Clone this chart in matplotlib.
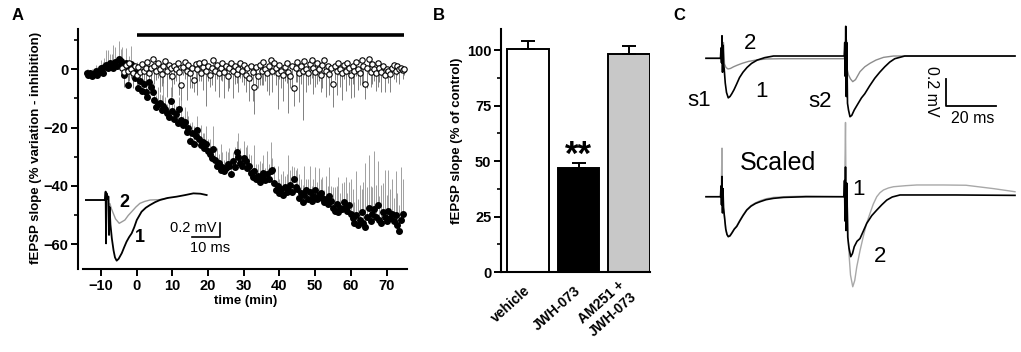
import numpy as np
import matplotlib
matplotlib.use('Agg')
import matplotlib.pyplot as plt
from matplotlib import font_manager as fm
from matplotlib.ticker import MultipleLocator


def _has_bold(fam):
    for f in fm.fontManager.ttflist:
        if f.name != fam:
            continue
        w = f.weight
        if isinstance(w, str):
            w = fm.weight_dict.get(w, 400)
        if w >= 700:
            return True
    return False


FAM = 'DejaVu Sans'
for cand in ['Liberation Sans', 'Arimo', 'Roboto', 'Open Sans', 'Lato', 'Noto Sans', 'Inter']:
    if _has_bold(cand):
        FAM = cand
        break
plt.rcParams['font.family'] = [FAM, 'DejaVu Sans']
plt.rcParams['font.weight'] = 'bold'

# ---------------- data: panel A time course ----------------
fill_t0, fill_dt = -14.0, 0.5
fill_y = [
    -1.5, -2.0, -1.2, -2.5, -1.8, -0.5, -2.2, -1.0, 0.2,
    -1.5, 0.8, 1.5, 0.5, 2.0, 1.2, 0.3, 2.5, 1.0, 3.5,
    2.8, 1.5, -2.0, 2.2, -5.5, 0.5, 1.8, -1.0, -3.0, -1.5,
    -6.5, -4.0, -7.5, -5.0, -8.0, -9.5, -4.5, -6.0, -7.8, -10.5,
    -13.0, -12.0, -11.5, -14.0, -12.5, -13.5, -15.0, -16.5, -11.0, -14.5,
    -17.0, -15.5, -18.5, -13.5, -17.5, -19.0, -18.0, -21.5, -20.0, -24.5,
    -22.0, -25.5, -23.0, -21.0, -24.0, -26.0, -25.0, -27.0, -25.5, -28.0,
    -29.0, -30.5, -27.5, -31.0, -33.0, -32.0, -34.5, -33.5, -35.0, -34.0,
    -32.5, -33.0, -36.0, -31.5, -33.5, -28.5, -30.0, -32.0, -33.0, -30.5,
    -31.5, -34.0, -33.0, -35.5, -37.0, -35.0, -37.5, -36.5, -38.5, -37.0,
    -35.5, -38.0, -36.0, -37.5, -35.0, -34.5, -39.0, -41.5, -40.0, -42.5,
    -41.0, -43.0, -40.5, -42.0, -41.5, -39.5, -42.0, -37.5, -40.5, -41.0,
    -44.0, -42.5, -45.5, -43.0, -41.5, -44.5, -42.0, -45.0, -43.5, -41.5,
    -44.5, -43.0, -42.5, -44.0, -45.5, -44.5, -46.0, -43.5, -45.0, -47.5,
    -48.5, -46.0, -49.0, -47.5, -48.0, -45.5, -47.0, -48.5, -46.5, -49.5,
    -51.0, -52.5, -50.0, -53.5, -51.5, -49.0, -52.5, -54.0, -50.5, -47.5,
    -52.0, -49.5, -48.0, -50.5, -46.5, -51.5, -52.5, -49.0, -50.5, -52.0,
    -48.5, -51.0, -49.5, -52.0, -50.0, -53.5, -55.5, -51.5, -49.5,
]
fill_err = [
    1.5, 2, 1, 2.5, 1.5, 2, 3, 2, 3,
    4, 3, 5, 6, 3, 4, 8, 5, 3, 6,
    4, 6, 3, 5, 7, 4, 6, 3, 5, 4,
    3, 4, 6, 2, 5, 3, 8, 4, 3, 5,
    4, 6, 3, 5, 8, 4, 3, 6, 5, 4,
    5, 3, 6, 4, 8, 3, 5, 7, 4, 6,
    4, 6, 3, 5, 4, 7, 3, 5, 6, 4,
    5, 3, 8, 4, 6, 3, 9, 5, 4, 6,
    4, 6, 5, 3, 7, 4, 8, 5, 3, 6,
    5, 8, 4, 6, 3, 9, 5, 4, 7, 5,
    6, 4, 8, 5, 10, 4, 6, 3, 7, 5,
    5, 8, 4, 6, 12, 5, 9, 4, 6, 7,
    8, 5, 6, 10, 4, 7, 9, 5, 6, 8,
    6, 9, 5, 7, 4, 8, 6, 10, 5, 7,
    8, 6, 12, 5, 9, 7, 10, 6, 8, 12,
    10, 7, 15, 9, 12, 8, 14, 22, 10, 18,
    12, 9, 20, 11, 15, 8, 13, 10, 16, 9,
    14, 10, 12, 8, 15, 11, 9, 18, 12,
]
open_t0, open_dt = -4.0, 0.5
open_y = [
    0.5, -1.0, 1.5, -0.5, 2.0, 0.0, -1.5, 1.0, -2.0,
    0.8, -1.0, 1.8, -0.5, 0.5, 2.5, -1.5, 0.3, 3.5, 1.0,
    -0.8, 2.0, 0.0, -1.8, 1.2, 2.8, -0.5, 1.5, 0.2, -2.5,
    1.0, 0.0, 2.2, -1.0, -5.5, 0.8, 2.5, -0.5, 1.5, -1.5,
    0.5, -3.8, 1.8, 0.0, 2.0, -1.2, 0.8, 2.5, -0.8, 1.0,
    -2.0, 0.5, 3.0, -0.5, 1.5, -1.5, 0.2, 2.0, -1.0, 1.2,
    -2.5, 0.5, 2.2, -0.8, 1.0, -1.8, 0.0, 2.0, -0.5, 1.5,
    -2.0, 0.5, -3.0, 1.0, -1.0, -6.3, 0.8, -2.5, 1.5, -0.5,
    2.5, 0.0, -1.5, 1.2, 3.0, -0.8, 2.0, 0.5, -1.5, 1.5,
    -0.5, -2.0, 0.8, 2.2, -1.0, -2.5, 1.0, -6.6, 0.5, 2.5,
    -1.2, 1.0, -0.5, 2.8, 0.0, -1.5, 1.8, 3.0, 0.5, -1.0,
    2.0, 0.0, -2.0, 1.5, 3.2, -0.5, 1.0, -1.8, 0.5, -5.1,
    1.2, -0.8, 2.0, 0.0, -1.5, 1.5, -0.5, 2.2, 0.5, -2.0,
    1.0, -0.5, 2.5, 0.0, -1.5, 3.0, 1.0, -5.2, 0.5, 3.5,
    -1.0, 1.8, 0.0, -1.5, 2.0, 0.5, -1.0, 1.2, -2.0, 0.0,
    -0.8, -1.8, 0.5, 1.5, -0.5, 1.0, 0.0, 0.5, -0.3, 0.0,
]
open_err = [
    3, 5, 2, 4, 6, 3, 5, 2, 4,
    5, 3, 6, 4, 8, 3, 5, 7, 4, 6,
    3, 5, 8, 4, 6, 3, 9, 5, 4, 7,
    6, 4, 3, 8, 5, 3, 6, 10, 4, 5,
    7, 4, 5, 9, 6, 3, 8, 4, 12, 5,
    4, 6, 3, 7, 5, 8, 4, 6, 9, 3,
    5, 7, 4, 9, 6, 3, 8, 5, 4, 7,
    6, 4, 8, 5, 10, 9, 6, 4, 7, 5,
    8, 4, 6, 10, 5, 7, 4, 6, 12, 5,
    6, 9, 5, 7, 14, 4, 8, 6, 5, 7,
    10, 6, 17, 5, 8, 4, 7, 6, 9, 5,
    7, 4, 6, 8, 5, 9, 4, 7, 6, 8,
    5, 8, 4, 6, 9, 5, 7, 4, 6, 8,
    6, 9, 5, 7, 4, 8, 6, 5, 7, 4,
    5, 7, 4, 6, 8, 5, 7, 4, 6, 3,
    4, 6, 3, 5, 4, 3, 5, 2, 3, 2,
]
drug_start, drug_end, drug_bar_y = 0, 75, 11.7

# inset A traces (ms, mV)
insA_black_t = [-3.0, 3.8, 4.0, 4.15, 4.3, 4.6, 5.0, 5.2, 5.4, 5.7, 6.2, 6.8, 7.3, 7.9, 8.6,
                9.7, 10.5, 11.4, 12.3, 13.2, 14.1, 15.0, 16.7, 18.2, 19.7, 21.5, 23.2, 26,
                29.1, 32, 35, 37.5, 39.7]
insA_black_v = [0, 0, 0.12, -0.62, 0.1, 0.02, 0.05, -0.5, -0.1, -0.35, -0.55, -0.72, -0.82,
                -0.867, -0.84, -0.76, -0.68, -0.595, -0.53, -0.476, -0.39, -0.286, -0.167,
                -0.11, -0.071, -0.03, 0.0, 0.03, 0.048, 0.07, 0.095, 0.09, 0.071]
insA_gray_t = [-3.0, 3.8, 4.0, 4.15, 4.3, 5.0, 5.2, 5.5, 6.0, 6.7, 7.5, 8.8, 9.8, 10.8, 12.0,
               13.2, 14.7, 16.1, 17.8, 19.7, 23, 26]
insA_gray_v = [0, 0, 0.1, -0.55, 0.05, 0.05, -0.3, -0.05, -0.12, -0.19, -0.27, -0.333, -0.31,
               -0.286, -0.22, -0.167, -0.1, -0.048, -0.02, 0.0, 0.005, 0.03]

# ---------------- data: panel B ----------------
groups = ['vehicle', 'JWH-073', 'AM251 +\nJWH-073']
means = [100.6, 46.9, 98.1]
sems = [3.3, 2.0, 3.7]
bar_colors = ['white', 'black', '#c8c8c8']

# ---------------- data: panel C traces (ms, mV) ----------------
top_black_t = [0, 5.8, 6.0, 6.2, 6.4, 6.6, 6.8, 7.0, 7.3, 7.7, 8.2, 8.9, 9.6, 10.3, 11.2, 12.2,
               13.4, 14.8, 16.4, 18.2, 20.5, 23.5, 27, 35, 45, 55.3, 55.5, 55.7, 55.9, 56.1,
               56.3, 56.6, 57.0, 57.6, 58.3, 59.3, 60.9, 62.2, 63.5, 65.5, 67.5, 69.5, 71.5,
               73.5, 75.5, 79.5, 90, 105, 123.6]
top_black_v = [-0.017, -0.017, 0.06, -0.05, 0.15, -0.12, 0.08, -0.05, -0.10, -0.20, -0.27,
               -0.31, -0.30, -0.28, -0.25, -0.21, -0.16, -0.12, -0.085, -0.055, -0.03, -0.012,
               0, 0, 0, 0, 0.1, -0.15, 0.22, -0.3, 0.1, -0.35, -0.4, -0.45, -0.44, -0.40,
               -0.35, -0.31, -0.28, -0.22, -0.165, -0.12, -0.08, -0.045, -0.02, 0, 0, 0, 0]
top_gray_t = [0, 5.8, 6.2, 6.6, 7.0, 7.4, 8.0, 8.8, 9.8, 11, 12.5, 14.5, 17, 20, 24, 30, 55.3,
              55.6, 55.9, 56.2, 56.5, 57.0, 57.8, 58.7, 59.8, 61.6, 63.5, 65.6, 68, 71, 75, 90,
              123.6]
top_gray_v = [-0.017, -0.017, 0.05, -0.05, 0.1, -0.06, -0.085, -0.096, -0.092, -0.08, -0.068,
              -0.054, -0.04, -0.03, -0.022, -0.02, -0.02, 0.08, -0.1, 0.12, -0.1, -0.14, -0.17,
              -0.19, -0.175, -0.116, -0.08, -0.054, -0.03, -0.01, 0, 0, 0]
bot_black_t = [0, 5.8, 6.0, 6.2, 6.4, 6.6, 6.8, 7.0, 7.4, 7.9, 8.4, 8.9, 9.6, 10.5, 11.3, 12.3,
               13.5, 14.8, 16.3, 18, 19.8, 21.6, 24, 27, 31, 40, 55.2, 55.4, 55.6, 55.8, 56.0,
               56.3, 56.7, 57.2, 57.9, 58.6, 59.3, 60.4, 61.6, 62.8, 64.3, 66.3, 68.3, 70.3,
               72.3, 74.5, 77.6, 85, 100, 123.6]
bot_black_v = [0, 0, 0.08, -0.06, 0.15, -0.12, 0.06, -0.08, -0.15, -0.24, -0.28, -0.296, -0.29,
               -0.265, -0.24, -0.22, -0.18, -0.14, -0.099, -0.07, -0.05, -0.037, -0.022,
               -0.012, -0.005, 0, 0, 0.12, -0.18, 0.22, -0.25, 0.1, -0.3, -0.38, -0.444,
               -0.42, -0.37, -0.33, -0.31, -0.26, -0.197, -0.14, -0.099, -0.06, -0.025,
               -0.002, 0.013, 0.013, 0.013, 0.01]
bot_gray_t = [0, 5.8, 6.1, 6.4, 6.6, 6.8, 7.0, 7.4, 7.9, 8.4, 8.9, 9.6, 10.5, 11.3, 12.3, 13.5,
              14.8, 16.3, 18, 19.8, 21.6, 24, 27, 31, 40, 55.2, 55.5, 55.8, 56.1, 56.4, 56.8,
              57.3, 57.8, 58.7, 59.5, 60.3, 61.6, 62.9, 64.2, 65.6, 66.9, 68.3, 69.6, 71, 73,
              75, 80, 84.3, 95, 104, 115, 123.6]
bot_gray_v = [0, 0, 0.05, 0.36, -0.1, 0.05, -0.08, -0.15, -0.24, -0.28, -0.29, -0.285, -0.26,
              -0.24, -0.215, -0.175, -0.135, -0.095, -0.065, -0.045, -0.03, -0.015, -0.005,
              0.0, 0.005, 0, 0.1, 0.55, -0.2, 0.1, -0.3, -0.45, -0.58, -0.667, -0.62, -0.52,
              -0.40, -0.296, -0.2, -0.123, -0.055, 0.0, 0.03, 0.05, 0.065, 0.074, 0.082, 0.087,
              0.087, 0.085, 0.06, 0.037]

# ---------------- figure ----------------
W, H = 1021, 352
fig = plt.figure(figsize=(W / 100, H / 100), dpi=100)


def box(x0, y0, x1, y1):
    return [x0 / W, 1 - y1 / H, (x1 - x0) / W, (y1 - y0) / H]


def bold_ticks(ax):
    for lbl in ax.get_xticklabels() + ax.get_yticklabels():
        lbl.set_fontweight('bold')


# ---- Panel A ----
axA = fig.add_axes(box(78, 29, 407, 269))
fill_t = fill_t0 + fill_dt * np.arange(len(fill_y))
open_t = open_t0 + open_dt * np.arange(len(open_y))
fy, fe = np.array(fill_y), np.array(fill_err)
oy, oe = np.array(open_y), np.array(open_err)
axA.vlines(fill_t, fy, fy + fe, color='#a0a0a0', lw=0.7, zorder=1)
axA.vlines(open_t, oy - oe, oy, color='#808080', lw=0.7, zorder=1)
axA.plot(fill_t, fy, 'o', ms=4.0, color='black', zorder=2)
axA.plot(open_t, oy, 'o', ms=3.9, mfc='white', mec='black', mew=0.8, zorder=3)
axA.hlines(drug_bar_y, drug_start, drug_end, color='black', lw=2.6)
axA.set_xlim(-16.4, 75.7)
axA.set_ylim(-68.4, 13.7)
for s in ['top', 'right']:
    axA.spines[s].set_visible(False)
axA.spines['bottom'].set_bounds(-15, 75.7)
for s in ['left', 'bottom']:
    axA.spines[s].set_linewidth(1.5)
axA.set_xticks(range(-10, 71, 10))
axA.set_yticks([-60, -40, -20, 0])
axA.yaxis.set_minor_locator(MultipleLocator(10))
axA.tick_params(which='major', direction='out', length=5, width=1.4, labelsize=10.5, pad=2)
axA.tick_params(which='minor', direction='out', length=3, width=1.2)
bold_ticks(axA)
axA.set_ylabel('fEPSP slope (% variation - inhibition)', fontsize=9.5, fontweight='bold')
axA.yaxis.set_label_coords(-0.108, 0.506)
axA.set_xlabel('time (min)', fontsize=9.5, fontweight='bold')
axA.xaxis.set_label_coords(0.508, -0.11)

axI = fig.add_axes(box(85, 180, 230, 270))
axI.set_xlim(-3.29, 47.95)
axI.set_ylim(-1.0, 0.286)
axI.axis('off')
axI.patch.set_alpha(0)
axI.plot(insA_gray_t, insA_gray_v, color='#9a9a9a', lw=1.0)
axI.plot(insA_black_t, insA_black_v, color='black', lw=1.3)
axI.plot([34.4, 44.4, 44.4], [-0.53, -0.53, -0.33], color='black', lw=1.2)
axI.text(10.5, -0.036, '2', fontsize=13, fontweight='bold', ha='center', va='center')
axI.text(16.1, -0.536, '1', fontsize=13, fontweight='bold', ha='center', va='center')
axI.text(26.8, -0.40, '0.2 mV', fontsize=10.5, fontweight='normal', ha='left', va='center')
axI.text(33.8, -0.686, '10 ms', fontsize=10.5, fontweight='normal', ha='left', va='center')

# ---- Panel B ----
axB = fig.add_axes(box(501, 29, 650, 272))
xb = np.arange(len(groups))
axB.bar(xb, means, width=0.83, color=bar_colors, edgecolor='black', lw=1.4, zorder=2)
axB.errorbar(xb, means, yerr=[np.zeros(len(sems)), sems], fmt='none', ecolor='black',
             elinewidth=1.4, capsize=5, capthick=1.4, zorder=3)
axB.set_xlim(-0.543, 2.42)
axB.set_ylim(0, 109.5)
for s in ['top', 'right']:
    axB.spines[s].set_visible(False)
for s in ['left', 'bottom']:
    axB.spines[s].set_linewidth(1.5)
axB.set_yticks([0, 25, 50, 75, 100])
axB.yaxis.set_minor_locator(MultipleLocator(12.5))
axB.tick_params(axis='y', which='major', direction='out', length=5, width=1.4, labelsize=10.5, pad=2)
axB.tick_params(axis='y', which='minor', direction='out', length=3, width=1.2)
axB.set_xticks(xb)
axB.set_xticklabels(groups, rotation=42, ha='right', va='center', rotation_mode='anchor',
                    multialignment='center', fontsize=10, fontweight='bold')
axB.tick_params(axis='x', length=0, pad=12)
bold_ticks(axB)
axB.set_ylabel('fEPSP slope (% of control)', fontsize=9.5, fontweight='bold')
axB.yaxis.set_label_coords(-0.255, 0.541)
axB.text(1, 52.5, '**', ha='center', va='center', fontsize=25, fontweight='bold')

# ---- Panel C ----
axCt = fig.add_axes(box(700, 0, 1021, 352))
axCt.set_xlim(-2.4, 126.0)
axCt.set_ylim(-2.193, 0.415)
axCt.axis('off')
axCt.patch.set_alpha(0)
axCt.plot(top_gray_t, top_gray_v, color='#8c8c8c', lw=1.0)
axCt.plot(top_black_t, top_black_v, color='black', lw=1.2)
axCt.plot([95.9, 95.9, 115.9], [-0.17, -0.37, -0.37], color='black', lw=1.3)
axCt.text(90.3, -0.262, '0.2 mV', rotation=-90, fontsize=11.5, fontweight='normal',
          ha='center', va='center')
axCt.text(106.8, -0.46, '20 ms', fontsize=11.5, fontweight='normal', ha='center', va='center')
axCt.text(17.6, 0.096, '2', fontsize=16, fontweight='normal', ha='center', va='center')
axCt.text(22.3, -0.264, '1', fontsize=16, fontweight='normal', ha='center', va='center')
axCt.text(-2.6, -0.33, 's1', fontsize=16, fontweight='normal', ha='center', va='center')
axCt.text(45.5, -0.34, 's2', fontsize=16, fontweight='normal', ha='center', va='center')

axCb = fig.add_axes(box(700, 0, 1021, 352))
axCb.set_xlim(-2.4, 126.0)
axCb.set_ylim(-1.150, 1.457)
axCb.axis('off')
axCb.patch.set_alpha(0)
axCb.plot(bot_gray_t, bot_gray_v, color='#a8a8a8', lw=1.0)
axCb.plot(bot_black_t, bot_black_v, color='black', lw=1.2)
axCb.text(28.6, 0.247, 'Scaled', fontsize=18, fontweight='normal', ha='center', va='center')
axCb.text(60.9, 0.05, '1', fontsize=16, fontweight='normal', ha='center', va='center')
axCb.text(69.6, -0.444, '2', fontsize=16, fontweight='normal', ha='center', va='center')

# panel letters
for lx, letter in [(18, 'A'), (439, 'B'), (679, 'C')]:
    fig.text(lx / W, 1 - 15 / H, letter, fontsize=12, fontweight='bold', ha='center', va='center')

fig.savefig('out.png', dpi=100)
